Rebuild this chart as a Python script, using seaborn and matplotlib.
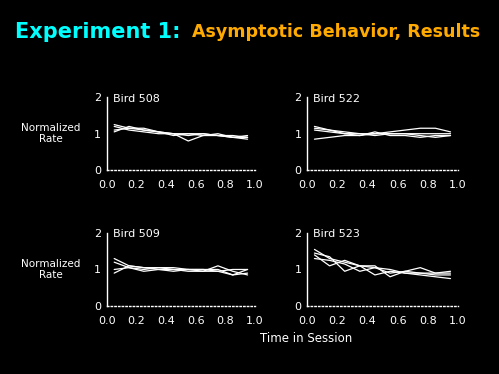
import numpy as np
import pandas as pd
import matplotlib
matplotlib.use('Agg')
import matplotlib.pyplot as plt
import seaborn as sns

# ==============================
# Data
# ==============================

time = [0.05, 0.15, 0.25, 0.35, 0.45, 0.55, 0.65, 0.75, 0.85, 0.95]

bird_508 = [
    [1.25, 1.15, 1.10, 1.05, 1.00, 0.80, 0.95, 0.95, 0.90, 0.90],
    [1.10, 1.15, 1.15, 1.05, 1.00, 1.00, 1.00, 0.95, 0.90, 0.85],
    [1.20, 1.10, 1.05, 1.00, 1.00, 0.95, 1.00, 0.95, 0.95, 0.90],
    [1.05, 1.20, 1.10, 1.05, 0.95, 1.00, 0.95, 1.00, 0.90, 0.95],
]
bird_522 = [
    [1.20, 1.10, 1.05, 1.00, 1.00, 1.05, 1.10, 1.15, 1.15, 1.05],
    [0.85, 0.90, 0.95, 0.95, 1.00, 1.00, 1.00, 1.00, 1.00, 1.00],
    [1.10, 1.05, 1.00, 0.95, 1.05, 0.95, 0.95, 0.90, 0.95, 0.95],
    [1.15, 1.10, 1.00, 1.00, 0.95, 1.00, 1.00, 0.95, 0.90, 0.95],
]
bird_509 = [
    [1.30, 1.10, 1.05, 1.00, 0.95, 1.00, 1.00, 1.00, 0.85, 0.90],
    [0.90, 1.10, 1.05, 1.05, 1.00, 0.95, 0.95, 1.10, 0.95, 0.85],
    [1.20, 1.05, 0.95, 1.00, 1.00, 1.00, 0.95, 0.95, 1.00, 1.00],
    [1.00, 1.05, 1.00, 1.05, 1.05, 1.00, 1.00, 0.95, 0.85, 1.00],
]
bird_523 = [
    [1.55, 1.30, 1.20, 1.10, 1.05, 0.90, 0.95, 0.90, 0.85, 0.85],
    [1.40, 1.10, 1.25, 1.10, 1.10, 0.80, 0.95, 1.05, 0.90, 0.95],
    [1.30, 1.25, 1.15, 0.95, 1.05, 1.00, 0.90, 0.85, 0.80, 0.75],
    [1.45, 1.35, 0.95, 1.10, 0.85, 0.95, 0.90, 0.90, 0.90, 0.90],
]

birds = ['Bird 508', 'Bird 522', 'Bird 509', 'Bird 523']
sessions = [bird_508, bird_522, bird_509, bird_523]
tick_labels = ['0.0', '0.2', '0.4', '0.6', '0.8', '1.0']

# ==============================
# Figure
# ==============================

sns.set_style("dark")
plt.rcParams['font.family'] = ['DejaVu Sans']

fig = plt.figure(figsize=(4.99, 3.74), dpi=100, facecolor='black')

positions = [
    [0.214, 0.545, 0.297, 0.195],
    [0.615, 0.545, 0.303, 0.195],
    [0.214, 0.182, 0.297, 0.195],
    [0.615, 0.182, 0.303, 0.195],
]

for i, (name, runs) in enumerate(zip(birds, sessions)):
    ax = fig.add_axes(positions[i])
    ax.set_facecolor('black')
    df = pd.DataFrame({
        'Time': time * len(runs),
        'Rate': np.concatenate(runs),
        'Run': np.repeat(np.arange(len(runs)), len(time)),
    })
    sns.lineplot(data=df, x='Time', y='Rate', units='Run', estimator=None,
                 color='white', lw=0.9, ax=ax, legend=False)
    ax.set_xlim(0, 1)
    ax.set_ylim(0, 2)
    ax.set_xticks(np.linspace(0, 1, 6))
    ax.set_xticklabels(tick_labels)
    ax.set_yticks([0, 1, 2])
    ax.set_xlabel('')
    ax.set_ylabel('')
    ax.grid(False)
    ax.tick_params(colors='white', labelcolor='white', labelsize=8,
                   length=2, width=0.8, pad=2)
    ax.tick_params(axis='x', pad=5)
    for s in ['top', 'right']:
        ax.spines[s].set_visible(False)
    ax.spines['left'].set_color('white')
    ax.spines['left'].set_linewidth(1)
    ax.spines['bottom'].set_color('white')
    ax.spines['bottom'].set_linestyle(':')
    ax.spines['bottom'].set_linewidth(1)
    ax.text(0.04, 0.98, name, transform=ax.transAxes, color='white',
            fontsize=8, va='center', ha='left')
    if i % 2 == 0:
        ax.text(-0.38, 0.5, 'Normalized\nRate', transform=ax.transAxes,
                color='white', fontsize=7.5, ha='center', va='center',
                linespacing=1.1)

fig.text(0.03, 0.915, 'Experiment 1:', color='#00ffff', fontsize=15,
         fontweight='bold', ha='left', va='center')
fig.text(0.385, 0.915, 'Asymptotic Behavior, Results', color='#ffaa00',
         fontsize=12.6, fontweight='bold', ha='left', va='center')
fig.text(0.613, 0.095, 'Time in Session', color='white', fontsize=8.5,
         ha='center', va='center')

plt.savefig('out.png', dpi=100, facecolor='black')
plt.close()
